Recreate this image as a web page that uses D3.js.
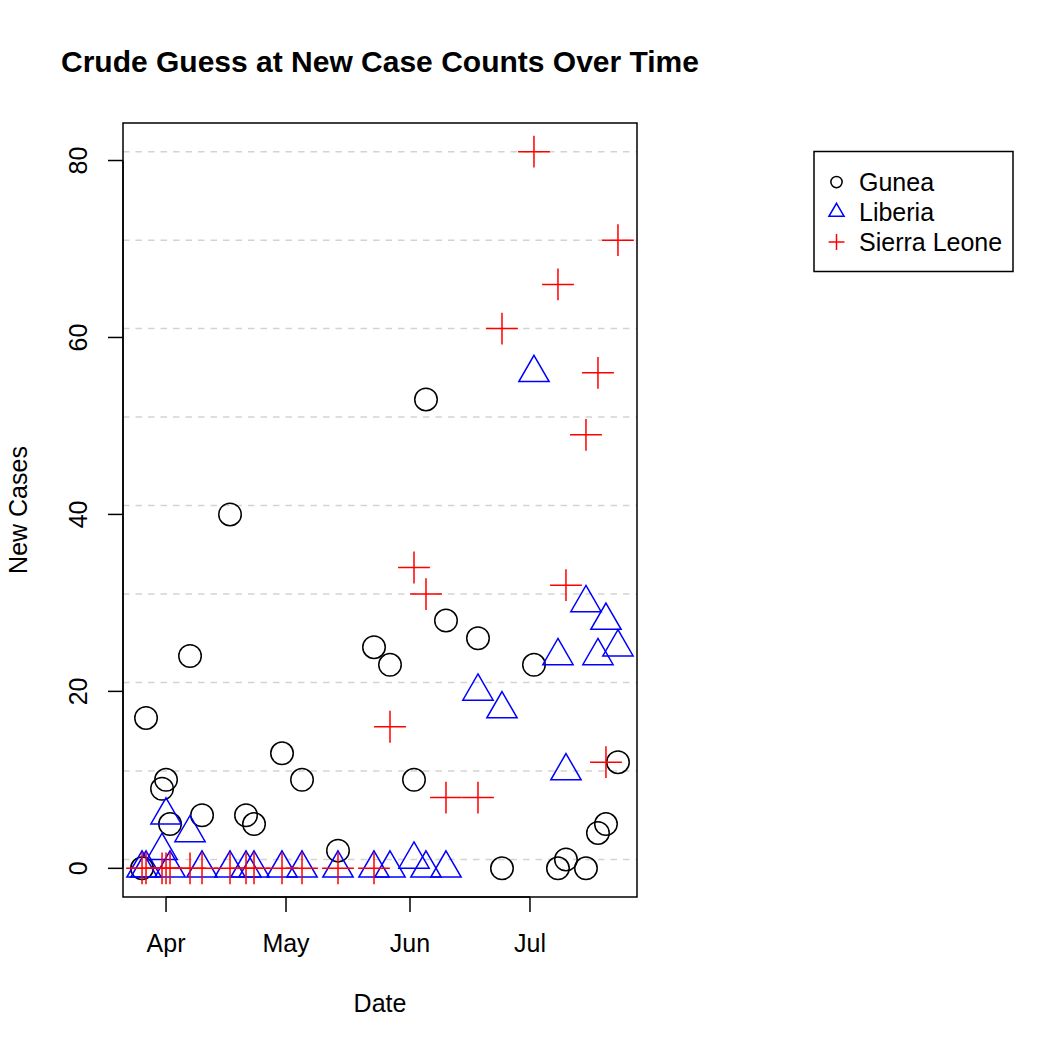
<!DOCTYPE html>
<html>
<head>
<meta charset="utf-8">
<script src="https://cdn.jsdelivr.net/npm/d3@7"></script>
<style>
  html, body { margin: 0; padding: 0; background: #fff; }
  svg { display: block; font-family: "Liberation Sans", Arial, Helvetica, sans-serif; }
</style>
</head>
<body>
<svg id="chart" width="1050" height="1050"></svg>
<script>
// ---- Data ----
const dates = ["2014-03-26","2014-03-27","2014-03-31","2014-04-01","2014-04-02","2014-04-07",
  "2014-04-10","2014-04-17","2014-04-21","2014-04-23","2014-04-30","2014-05-05","2014-05-14",
  "2014-05-23","2014-05-27","2014-06-02","2014-06-05","2014-06-10","2014-06-18","2014-06-24",
  "2014-07-02","2014-07-08","2014-07-10","2014-07-15","2014-07-18","2014-07-20","2014-07-23"];
const guinea      = [0,17,9,10,5,24,6,40,6,5,13,10,2,25,23,10,53,28,26,0,23,0,1,0,4,5,12];
const liberia     = [0,0,2,6,0,4,0,0,0,0,0,0,0,0,0,1,0,0,20,18,56,24,11,30,24,28,25];
const sierraLeone = [0,0,0,0,0,0,0,0,0,0,0,0,0,0,16,34,31,8,8,61,81,66,32,49,56,12,71];
const seriesNames = ["Gunea","Liberia","Sierra Leone"];
const xTickDates  = ["2014-04-01","2014-05-01","2014-06-01","2014-07-01"];
const xTickLabels = ["Apr","May","Jun","Jul"];
const yTicks      = [0,20,40,60,80];
const gridValues  = [1,11,21,31,41,51,61,71,81];
const titleText = "Crude Guess at New Case Counts Over Time";
const xLabel = "Date", yLabel = "New Cases";

// ---- Layout ----
const L = 123, R = 637, T = 123, B = 897;
const svg = d3.select("#chart");
const parse = d3.utcParse("%Y-%m-%d");
const dts = dates.map(parse);

const dMin = d3.min(dts), dMax = d3.max(dts);
const span = dMax - dMin;
const x = d3.scaleUtc()
  .domain([new Date(+dMin - 0.04*span), new Date(+dMax + 0.04*span)])
  .range([L, R]);
const allVals = guinea.concat(liberia, sierraLeone);
const yMin = d3.min(allVals), yMax = d3.max(allVals), ys = yMax - yMin;
const y = d3.scaleLinear().domain([yMin - 0.04*ys, yMax + 0.04*ys]).range([B, T]);

const LW = 1.5;
const FS = 25;

// gridlines
svg.append("g").selectAll("line").data(gridValues).join("line")
  .attr("x1", L).attr("x2", R)
  .attr("y1", d => y(d)).attr("y2", d => y(d))
  .attr("stroke", "#d3d3d3").attr("stroke-width", LW).attr("stroke-dasharray", "6.5,6");

// marker generators
function circleSym(g, cx, cy, s, col) {
  g.append("circle").attr("cx", cx).attr("cy", cy).attr("r", 0.375*s)
    .attr("fill", "none").attr("stroke", col).attr("stroke-width", LW);
}
function triSym(g, cx, cy, s, col) {
  const xc0 = 0.375*s;
  const r = 1.55512030155621416 * xc0, yc = 0.77756015077810708 * xc0, xc = 1.3467736870885984 * xc0;
  g.append("path").attr("d", `M${cx},${cy - r}L${cx + xc},${cy + yc}L${cx - xc},${cy + yc}Z`)
    .attr("fill", "none").attr("stroke", col).attr("stroke-width", LW).attr("stroke-linejoin", "miter");
}
function plusSym(g, cx, cy, s, col) {
  const h = Math.SQRT2 * 0.375 * s;
  g.append("path").attr("d", `M${cx - h},${cy}H${cx + h}M${cx},${cy - h}V${cy + h}`)
    .attr("fill", "none").attr("stroke", col).attr("stroke-width", LW);
}
const PS = 0.6 * FS * 2; // cex = 2

const series = [
  {vals: guinea, sym: circleSym, col: "#000000"},
  {vals: liberia, sym: triSym, col: "#0000ff"},
  {vals: sierraLeone, sym: plusSym, col: "#ff0000"}
];
series.forEach(s => {
  const g = svg.append("g");
  s.vals.forEach((v, i) => s.sym(g, x(dts[i]), y(v), PS, s.col));
});

// box
svg.append("rect").attr("x", L).attr("y", T).attr("width", R - L).attr("height", B - T)
  .attr("fill", "none").attr("stroke", "#000").attr("stroke-width", LW);

// x axis
const xt = xTickDates.map(parse);
const gx = svg.append("g");
gx.selectAll("line").data(xt).join("line")
  .attr("x1", d => x(d)).attr("x2", d => x(d)).attr("y1", B).attr("y2", B + 15)
  .attr("stroke", "#000").attr("stroke-width", LW);
gx.append("line").attr("x1", x(xt[0])).attr("x2", x(xt[xt.length-1])).attr("y1", B).attr("y2", B)
  .attr("stroke", "#000").attr("stroke-width", LW);
gx.selectAll("text").data(xt).join("text")
  .attr("x", d => x(d)).attr("y", 952).attr("text-anchor", "middle")
  .attr("font-size", FS).text((d, i) => xTickLabels[i]);

// y axis
const gy = svg.append("g");
gy.selectAll("line").data(yTicks).join("line")
  .attr("x1", L - 15).attr("x2", L).attr("y1", d => y(d)).attr("y2", d => y(d))
  .attr("stroke", "#000").attr("stroke-width", LW);
gy.append("line").attr("x1", L).attr("x2", L).attr("y1", y(yTicks[0])).attr("y2", y(yTicks[yTicks.length-1]))
  .attr("stroke", "#000").attr("stroke-width", LW);
gy.selectAll("text").data(yTicks).join("text")
  .attr("transform", d => `translate(87,${y(d)}) rotate(-90)`)
  .attr("text-anchor", "middle").attr("font-size", FS).text(d => d);

// labels
svg.append("text").attr("x", (L + R)/2).attr("y", 1012).attr("text-anchor", "middle")
  .attr("font-size", FS).text(xLabel);
svg.append("text").attr("transform", `translate(27,${(T + B)/2}) rotate(-90)`)
  .attr("text-anchor", "middle").attr("font-size", FS).text(yLabel);
svg.append("text").attr("x", (L + R)/2).attr("y", 72).attr("text-anchor", "middle")
  .attr("font-size", 30).attr("font-weight", "bold").text(titleText);

// legend
const lg = svg.append("g");
lg.append("rect").attr("x", 814).attr("y", 151.5).attr("width", 199).attr("height", 120)
  .attr("fill", "#fff").attr("stroke", "#000").attr("stroke-width", LW);
const LPS = 0.6 * FS;
seriesNames.forEach((name, i) => {
  const cy = 182 + i * 30;
  series[i].sym(lg, 836.5, cy, LPS, series[i].col);
  lg.append("text").attr("x", 859).attr("y", cy + 9).attr("font-size", FS).text(name);
});
</script>
</body>
</html>
